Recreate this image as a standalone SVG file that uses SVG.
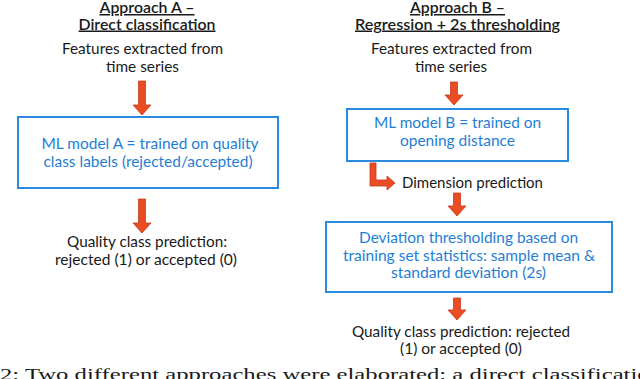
<svg xmlns="http://www.w3.org/2000/svg" width="640" height="379" viewBox="0 0 640 379">
<style>
  .t { font-family: Lato, "Open Sans", "Liberation Sans", sans-serif; font-size: 15px; fill: #1a1a1a; text-anchor: middle; }
  .title { font-weight: 600; text-decoration: underline; }
  .bt { font-family: Lato, "Open Sans", "Liberation Sans", sans-serif; font-size: 15px; fill: #1f7ed4; text-anchor: middle; }
  .box { fill: #ffffff; stroke: #2a8ae0; stroke-width: 2; }
  .arr { fill: #ea4d24; stroke: #c53a1a; stroke-width: 0.8; stroke-linejoin: miter; }
  .cap { font-family: "Liberation Serif", "DejaVu Serif", serif; font-size: 16px; fill: #1a1a1a; }
</style>
<rect width="640" height="379" fill="#ffffff"/>

<g id="titleA">
  <text class="t title" x="147" y="13" textLength="95" lengthAdjust="spacingAndGlyphs">Approach A –</text>
  <text class="t title" x="147" y="29.5" textLength="137" lengthAdjust="spacingAndGlyphs">Direct classification</text>
</g>
<g id="featuresA">
  <text class="t" x="142.5" y="54" textLength="161" lengthAdjust="spacingAndGlyphs">Features extracted from</text>
  <text class="t" x="142.5" y="72" textLength="73" lengthAdjust="spacingAndGlyphs">time series</text>
</g>
<g id="modelA">
  <rect class="box" x="18" y="117" width="260" height="71"/>
  <text class="bt" x="150" y="149" textLength="217" lengthAdjust="spacingAndGlyphs">ML model A = trained on quality</text>
  <text class="bt" x="148" y="167" textLength="209" lengthAdjust="spacingAndGlyphs">class labels (rejected/accepted)</text>
</g>
<g id="predA">
  <text class="t" x="147" y="247" textLength="160" lengthAdjust="spacingAndGlyphs">Quality class prediction:</text>
  <text class="t" x="146" y="265" textLength="182" lengthAdjust="spacingAndGlyphs">rejected (1) or accepted (0)</text>
</g>

<g id="titleB">
  <text class="t title" x="457.5" y="13" textLength="95" lengthAdjust="spacingAndGlyphs">Approach B –</text>
  <text class="t title" x="457.5" y="29.5" textLength="205" lengthAdjust="spacingAndGlyphs">Regression + 2s thresholding</text>
</g>
<g id="featuresB">
  <text class="t" x="451.5" y="54" textLength="161" lengthAdjust="spacingAndGlyphs">Features extracted from</text>
  <text class="t" x="451" y="72" textLength="72" lengthAdjust="spacingAndGlyphs">time series</text>
</g>
<g id="modelB">
  <rect class="box" x="347" y="109" width="221" height="52"/>
  <text class="bt" x="457.5" y="128" textLength="167" lengthAdjust="spacingAndGlyphs">ML model B = trained on</text>
  <text class="bt" x="457.5" y="146" textLength="115" lengthAdjust="spacingAndGlyphs">opening distance</text>
</g>
<g id="dimension">
  <text class="t" x="402" y="188" style="text-anchor:start" textLength="141" lengthAdjust="spacingAndGlyphs">Dimension prediction</text>
</g>
<g id="threshold">
  <rect class="box" x="326" y="222" width="286" height="70"/>
  <text class="bt" x="468.5" y="243" textLength="219" lengthAdjust="spacingAndGlyphs">Deviation thresholding based on</text>
  <text class="bt" x="469" y="261" textLength="252" lengthAdjust="spacingAndGlyphs">training set statistics: sample mean &amp;</text>
  <text class="bt" x="468.5" y="278" textLength="155" lengthAdjust="spacingAndGlyphs">standard deviation (2s)</text>
</g>
<g id="predB">
  <text class="t" x="461" y="337" textLength="218" lengthAdjust="spacingAndGlyphs">Quality class prediction: rejected</text>
  <text class="t" x="461" y="354" textLength="122" lengthAdjust="spacingAndGlyphs">(1) or accepted (0)</text>
</g>

<g id="connectors">
  <path class="arr" d="M138.5,81 H145.5 V105 H151 L142,115 L133,105 H138.5 Z"/>
  <path class="arr" d="M138.5,199 H145.5 V223 H151 L142,233 L133,223 H138.5 Z"/>
  <path class="arr" d="M450.5,82 H457.5 V95 H463 L454,105 L445,95 H450.5 Z"/>
  <path class="arr" d="M453.5,193 H460.5 V206 H466 L457,216 L448,206 H453.5 Z"/>
  <path class="arr" d="M453.5,298 H460.5 V310 H466 L457,320 L448,310 H453.5 Z"/>
  <path class="arr" d="M370,163 H376 V180 H387 V176 L395,183 L387,190 V186 H370 Z"/>
</g>

<text class="cap" x="0" y="379.5" textLength="662" lengthAdjust="spacingAndGlyphs">2: Two different approaches were elaborated: a direct classification</text>
</svg>
